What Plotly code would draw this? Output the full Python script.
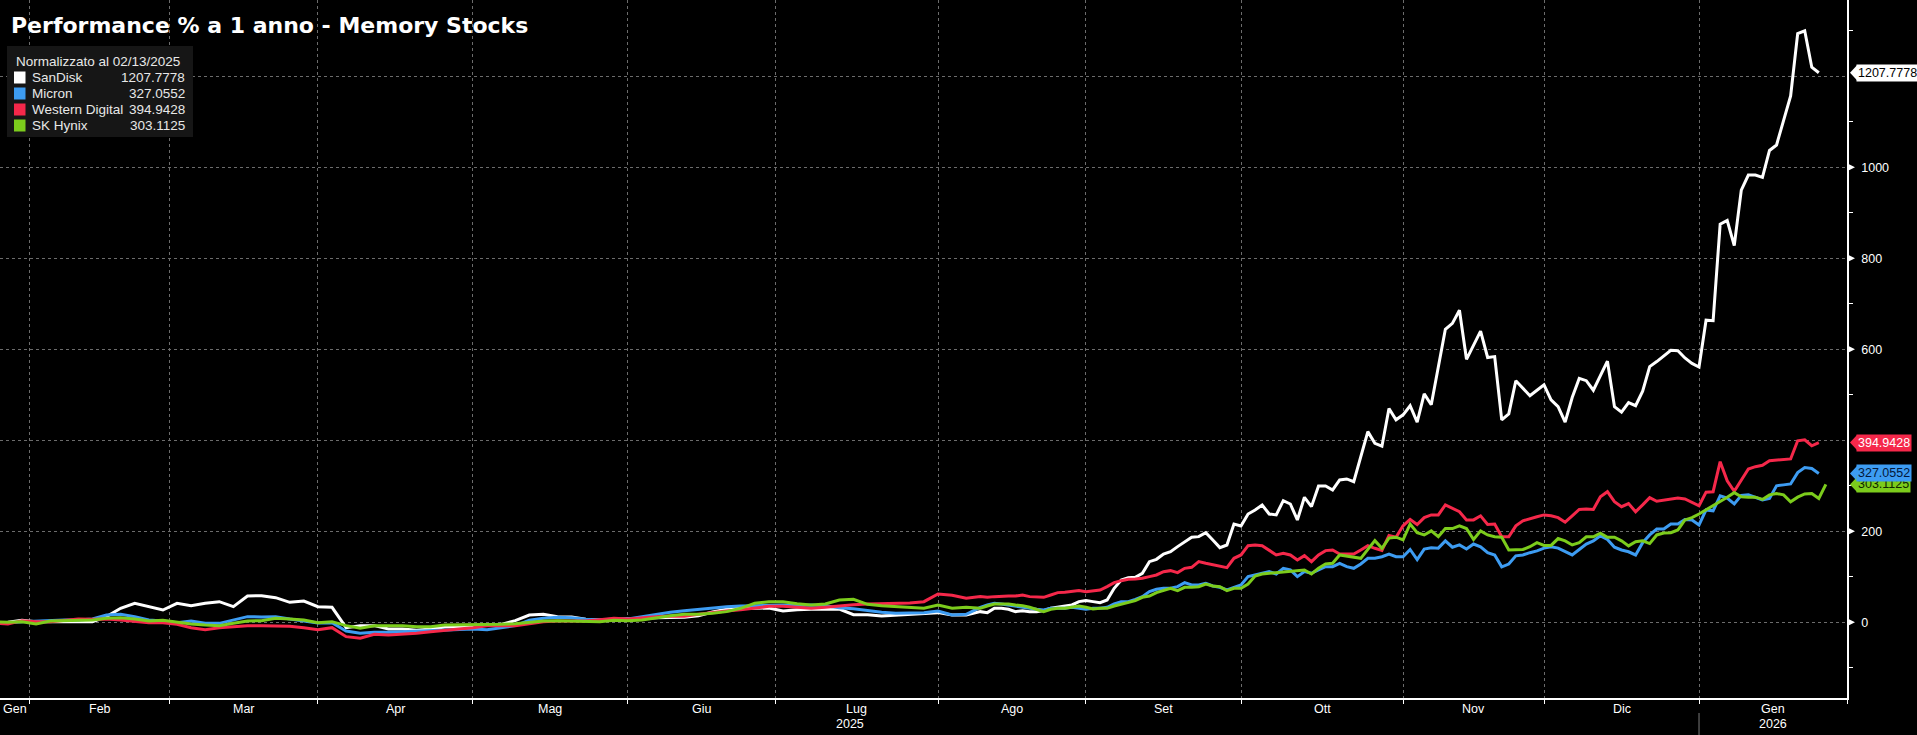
import pandas as pd
import plotly.graph_objects as go

# ---------------- data ----------------
TITLE = "Performance % a 1 anno - Memory Stocks"
LEGEND_HEADER = "Normalizzato al 02/13/2025"
names = ["SanDisk", "Micron", "Western Digital", "SK Hynix"]
last_labels = ["1207.7778", "327.0552", "394.9428", "303.1125"]
colors = ["#ffffff", "#3d9cf2", "#f5284a", "#7ccc1c"]
tag_text_colors = ["#000000", "#04183a", "#ffffff", "#0f2600"]
IT_MONTHS = ["Gen", "Feb", "Mar", "Apr", "Mag", "Giu", "Lug", "Ago", "Set", "Ott", "Nov", "Dic"]

first_session = "2025-01-27"
last_session = "2026-01-30"
closed_days = ["2025-12-25", "2026-01-01"]

# early part: every other session (sessions 0,2,...,138); late part: every session from 140
sandisk_early = [-2.3, 0, 4.3, 1.4, 1.4, 1.4, 1.4, 1.4, 12.4, 30.7, 41.7, 34.3, 27, 41.7, 36.5, 41.7, 45.3, 34.3,
                 57.8, 58.5, 54.1, 43.9, 46.8, 34.3, 32.9, -11.8, -7.4, -7.4, -14.7, -14.7, -17.7, -14.7, -10.3, -9.6, -7.4,
                 -6, -4.5, 3.6, 16, 17.5, 12.4, 11.6, 6.5, 5, 5.8, 6.5, 8.7, 10.2, 10.2, 10.9, 14.6, 22.6, 28.5,
                 30.7, 30.7, 31.4, 24.8, 27.8, 28.5, 29.2, 29.2, 16.8, 16.8, 13.8, 16, 18.2, 19.7, 21.2, 16, 16]
micron_early = [-0.8, -0.8, 1.4, 2.8, 5, 5, 5, 7.2, 16, 17.5, 12.4, 5, 2.8, -0.8, 2.8, -2.3, -2.3, 5, 12.4, 11.6,
                12.4, 7.2, 2.8, -1.5, -0.8, -19.1, -24.3, -22, -22, -20.6, -19.1, -17.7, -16.2, -14.7, -14.7,
                -16.2, -12.5, -7.4, 4.3, 8.7, 10.9, 10.2, 6.5, 5, 7.2, 7.2, 12.4, 17.5, 21.9, 25.6, 28.5, 32.2, 34.3,
                35.8, 36.5, 38, 38, 36.5, 38, 36.5, 32.2, 30, 25.6, 21.9, 19.7, 19.7, 21.2, 24.8, 16, 17.5]
wdc_early = [-2.3, -3.7, 3.6, 1.4, 1.4, 3.6, 7.2, 6.5, 7.2, 5, 2.8, -0.8, -0.8, -4.5, -11.8, -16.2, -11.8, -8.9,
             -7.4, -7.4, -7.4, -8.9, -11.8, -16.2, -11.8, -31.6, -35.2, -26.5, -27.9, -26.5, -24.3, -20.6, -17, -14.7, -11.8,
             -7.4, -7.4, -7.4, -3, 1.4, 2.8, 2.1, 2.8, 5.8, 8.7, 7.2, 10.2, 12.4, 13.8, 13.1, 17.5, 21.9, 24.8,
             27.8, 31.4, 35.1, 35.1, 32.2, 30.7, 32.9, 36.5, 38.7, 40.2, 41, 41.7, 42.4, 45.3, 62.2, 59.3, 52.7]
hynix_early = [1.4, 0, 1.4, -3.7, 2.8, 3.6, 3.6, 5, 8.7, 10.2, 7.2, 2.8, 4.3, 0, -3.7, -6, -7.4, -2.3, 2.8, 3.6,
               8.7, 7.2, 5, -0.8, 1.4, -7.4, -13.3, -7.4, -7.4, -7.4, -9.6, -9.6, -6, -6, -4.5,
               -6, -4.5, -3, 0.6, 2.8, 3.6, 2.8, 0.6, 1.4, 4.3, 3.6, 5, 10.2, 14.6, 17.5, 17.5, 19.7, 23.4,
               30.7, 41.7, 45.3, 45.3, 41, 38, 40.2, 49, 50.5, 39.5, 36.5, 34.3, 32.9, 30.7, 38, 30.7, 32.9]

sandisk_late = [23.4, 21.2, 30.7, 30.7, 28.5, 23.4, 25.6, 23.4, 23.4, 25.6,
                30.7, 32.9, 34.4, 38.1, 45.4, 47.6, 45.4, 43.2, 49, 74.7,
                93, 98.1, 98.9, 107.7, 133.3, 138.4, 150.1, 155.3, 166.3, 177.3,
                186.8, 188.2, 197, 180.9, 164.1, 169.9, 216.1, 211.7, 238, 246.8,
                257.8, 238, 235.9, 267.4, 260, 224.9, 274.7, 254.2, 299.6, 299.6,
                290.8, 312.8, 315, 309.1, 364.1, 419, 393.4, 387, 470, 445,
                456, 476, 440, 502, 478, 562, 644, 657, 686, 578,
                610, 640, 582, 584, 445, 458, 531, 514, 498, 510,
                522, 489, 474, 440, 494, 536, 531, 510, 544, 574,
                474, 462, 483, 476, 508, 562, 573, 585, 598, 597,
                581, 569, 561, 664, 663, 875, 883, 828, 950, 983,
                983, 978, 1037, 1049, 1102, 1157, 1294, 1300, 1220, 1207.78]
micron_late = [32.9, 38.1, 41.7, 40.2, 38.1, 35.9, 34.4, 30.7, 28.5, 27.1,
               30.7, 30.7, 30.7, 32.9, 30.7, 28.5, 30.7, 30.7, 32.9, 40.2,
               45.4, 45.4, 50.5, 56.4, 67.4, 72.5, 74.7, 74.7, 78.3, 87.1,
               82, 82, 85.7, 79.8, 76.9, 71, 76.9, 82, 100.3, 104,
               106.2, 111.3, 106.2, 118.6, 115, 100.3, 111.3, 107.7, 115, 122.3,
               122.3, 129.6, 122.3, 118.6, 128.2, 140.6, 140.6, 144, 150, 144,
               144, 160, 138, 161, 164, 163, 179, 165, 170, 161,
               172, 166, 153, 148, 122, 128, 146, 148, 153, 157,
               163, 166, 163, 155, 148, 160, 172, 179, 190, 182,
               165, 159, 155, 148, 175, 192, 205, 205, 216, 216,
               226, 225, 214, 247, 245, 278, 273, 260, 279, 280,
               275, 269, 272, 300, 302, 304, 329, 340, 338, 327.06]
wdc_late = [56.4, 54.9, 56.4, 57.8, 57.8, 57.8, 60, 56.4, 54.9, 54.9,
            60, 65.2, 65.9, 67.4, 69.6, 67.4, 68.8, 71, 78.3, 87.1,
            91.5, 94.5, 95.2, 96.7, 100.3, 104, 111.3, 113.5, 109.1, 118.6,
            120.8, 133.3, 129.6, 126, 122.3, 120.1, 140.6, 148, 168.4, 169.9,
            168.4, 158.9, 148, 151.6, 148, 137, 146.5, 133.3, 148, 157.5,
            158.9, 150.1, 150.1, 150.1, 158.9, 168.4, 162.6, 158, 191, 187,
            212, 226, 215, 230, 236, 236, 258, 250, 243, 225,
            225, 234, 215, 216, 188, 188, 212, 223, 228, 232,
            236, 234, 230, 220, 234, 248, 249, 248, 276, 287,
            265, 254, 261, 243, 258, 274, 266, 268, 270, 273,
            271, 263, 256, 286, 287, 353, 311, 288, 312, 337,
            342, 345, 355, 356, 357, 359, 399, 401, 388, 394.94]
hynix_late = [30.7, 35.9, 40.2, 40.2, 40.2, 38.1, 36.6, 32.9, 28.5, 23.4,
              28.5, 30.7, 30.7, 32.9, 35.9, 32.9, 29.3, 30.7, 30.7, 35.9,
              40.2, 43.2, 47.6, 54.9, 57.8, 65.2, 69.6, 74.7, 69.6, 76.9,
              76.9, 78.3, 84.2, 79.8, 78.3, 69.6, 74.7, 74.7, 84.2, 101.8,
              106.2, 107.7, 109.1, 111.3, 113.5, 115, 115, 106.2, 118.6, 128.2,
              129.6, 148, 145.7, 142.8, 140.6, 160.4, 179.4, 162.6, 185, 187,
              181, 216, 197, 192, 201, 188, 206, 206, 212, 206,
              182, 201, 192, 188, 187, 159, 160, 160, 166, 175,
              169, 169, 184, 179, 170, 175, 188, 188, 196, 187,
              187, 179, 168, 177, 179, 173, 192, 196, 197, 203,
              225, 230, 238, 247, 256, 265, 275, 285, 276, 275,
              275, 270, 280, 283, 280, 265, 275, 282, 283, 272, 303.11]

EARLY_STEP = 2
LATE_START = 140

# ---------------- trading calendar (x scale in sessions) ----------------
cal = pd.bdate_range(first_session, last_session)
cal = cal[~cal.isin(pd.to_datetime(closed_days))]
n_sessions = len(cal)


def series_xy(early, late):
    dates = list(cal[0:LATE_START:EARLY_STEP][:len(early)]) + list(cal[LATE_START:LATE_START + len(late)])
    pos = {d: i for i, d in enumerate(cal)}
    return [pos[d] for d in dates], list(early) + list(late)


all_series = [(sandisk_early, sandisk_late), (micron_early, micron_late),
              (wdc_early, wdc_late), (hynix_early, hynix_late)]

# ---------------- layout geometry ----------------
W, H = 1917, 735
ML, MR, MT, MB = 0, 70, 0, 37
PW, PH = W - ML - MR, H - MT - MB
X0 = 0.88
X1 = n_sessions
Y0, Y1 = -166.4, 1367.7


def px(x):
    return x / PW


def py(y):
    return 1 - y / PH


FONT = "Liberation Sans, Arial, sans-serif"
GRID = "#6c6c6c"

fig = go.Figure()
for k in [0, 1, 2, 3]:
    xs, ys = series_xy(*all_series[k])
    fig.add_trace(go.Scatter(x=xs, y=ys, mode="lines", name=names[k],
                             line=dict(color=colors[k], width=3), showlegend=False,
                             hoverinfo="skip"))

# month boundaries & labels
bounds = [i for i in range(1, n_sessions) if cal[i].month != cal[i - 1].month]
edges = [X0] + bounds + [X1]
starts = [0] + bounds
annotations = []
shapes = []
for j in range(len(edges) - 1):
    mid = (edges[j] + edges[j + 1]) / 2
    annotations.append(dict(x=mid, xref="x", y=py(709), yref="paper", text=IT_MONTHS[cal[starts[j]].month - 1],
                            showarrow=False, xanchor="center", yanchor="middle",
                            font=dict(family=FONT, size=12.5, color="#ffffff")))
# years
year_change = [b for b in bounds if cal[b].year != cal[b - 1].year]
yr_edges = [X0] + year_change + [X1]
yr_starts = [0] + year_change
for j in range(len(yr_edges) - 1):
    mid = (yr_edges[j] + yr_edges[j + 1]) / 2
    annotations.append(dict(x=mid, xref="x", y=py(724), yref="paper", text=str(cal[yr_starts[j]].year),
                            showarrow=False, xanchor="center", yanchor="middle",
                            font=dict(family=FONT, size=12.5, color="#ffffff")))
for b in year_change:
    shapes.append(dict(type="line", xref="x", yref="paper", x0=b, x1=b, y0=py(713), y1=py(735),
                       line=dict(color="#7a7a7a", width=1)))

# title
annotations.append(dict(x=px(9), y=py(25), xref="paper", yref="paper", text="<b>" + TITLE + "</b>",
                        showarrow=False, xanchor="left", yanchor="middle",
                        font=dict(family="DejaVu Sans, Verdana, sans-serif", size=22, color="#ffffff")))

# legend box
shapes.append(dict(type="rect", xref="paper", yref="paper", x0=px(7), x1=px(193), y0=py(137), y1=py(46),
                   fillcolor="#161616", line=dict(width=0), layer="above"))
annotations.append(dict(x=px(14), y=py(61.5), xref="paper", yref="paper", text=LEGEND_HEADER, showarrow=False,
                        xanchor="left", yanchor="middle", font=dict(family=FONT, size=13.5, color="#e8e8e8")))
row_y = [77.5, 93.5, 109.5, 125.5]
for k in range(4):
    shapes.append(dict(type="rect", xref="paper", yref="paper", x0=px(14), x1=px(25.5),
                       y0=py(row_y[k] + 6), y1=py(row_y[k] - 6), fillcolor=colors[k], line=dict(width=0),
                       layer="above"))
    annotations.append(dict(x=px(30), y=py(row_y[k]), xref="paper", yref="paper", text=names[k], showarrow=False,
                            xanchor="left", yanchor="middle", font=dict(family=FONT, size=13.5, color="#e8e8e8")))
    annotations.append(dict(x=px(187), y=py(row_y[k]), xref="paper", yref="paper", text=last_labels[k],
                            showarrow=False, xanchor="right", yanchor="middle",
                            font=dict(family=FONT, size=13.5, color="#e8e8e8")))

# axis label markers
label_vals = [0, 200, 400, 600, 800, 1000, 1200]
label_text = ["0", "200", "", "600", "800", "1000", ""]
for v, t in zip(label_vals, label_text):
    if t:
        shapes.append(dict(type="path", xref="paper", yref="y", xsizemode="pixel", ysizemode="pixel",
                           xanchor=1, yanchor=v, path="M 1,-3.5 L 8,0 L 1,3.5 Z",
                           fillcolor="#ffffff", line=dict(width=0)))

# last value tags (drawn green, blue, red, white)
for k in [3, 1, 2, 0]:
    xs, ys = series_xy(*all_series[k])
    v = ys[-1]
    shapes.append(dict(type="path", xref="paper", yref="y", xsizemode="pixel", ysizemode="pixel",
                       xanchor=1, yanchor=v, path="M 3,0 L 10,7.5 L 10,-7.5 Z",
                       fillcolor=colors[k], line=dict(width=0)))
    annotations.append(dict(x=1, xref="paper", y=v, yref="y", xshift=9, text=last_labels[k], showarrow=False,
                            xanchor="left", yanchor="middle", bgcolor=colors[k], borderpad=1,
                            font=dict(family=FONT, size=12.5, color=tag_text_colors[k])))

fig.update_layout(
    width=W, height=H, margin=dict(l=ML, r=MR, t=MT, b=MB, pad=0),
    paper_bgcolor="#000000", plot_bgcolor="#000000",
    xaxis=dict(range=[X0, X1], tickmode="array", tickvals=bounds + [X1], ticktext=[""] * (len(bounds) + 1),
               ticks="outside", ticklen=4, tickcolor="#ffffff", tickwidth=1,
               showline=True, linecolor="#ffffff", linewidth=1.5,
               showgrid=True, gridcolor=GRID, griddash="3px,3px", gridwidth=1, zeroline=False),
    yaxis=dict(range=[Y0, Y1], side="right", tickmode="array", tickvals=label_vals, ticktext=label_text,
               ticks="", showline=True, linecolor="#ffffff", linewidth=1.5,
               showgrid=True, gridcolor=GRID, griddash="3px,3px", gridwidth=1, zeroline=False,
               ticklabelstandoff=10,
               tickfont=dict(family=FONT, size=12.5, color="#ffffff"),
               minor=dict(tickmode="array", tickvals=[-100, 100, 300, 500, 700, 900, 1100, 1300],
                          ticks="outside", ticklen=4, tickcolor="#ffffff", showgrid=False)),
    annotations=annotations, shapes=shapes, showlegend=False,
)

fig.write_html("out.html")
